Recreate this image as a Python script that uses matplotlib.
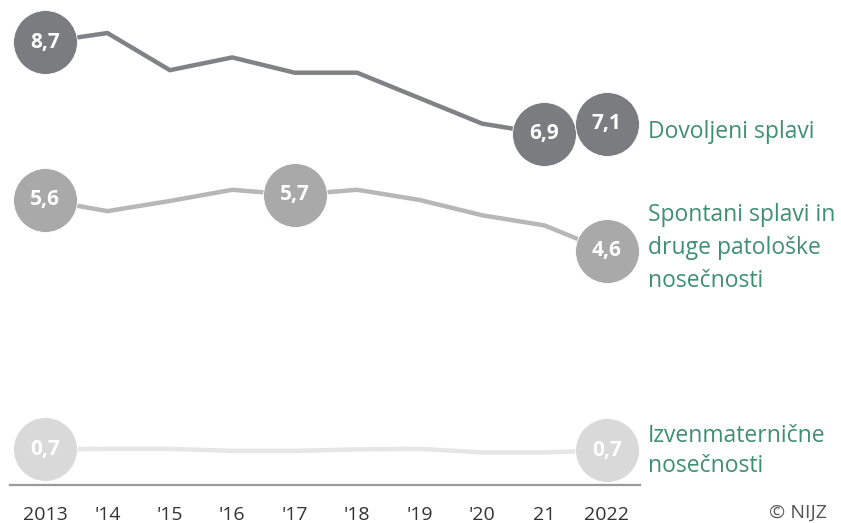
import numpy as np
import matplotlib
matplotlib.use("Agg")
import matplotlib.pyplot as plt

plt.rcParams['font.family'] = ['Open Sans', 'DejaVu Sans']

years = [2013, 2014, 2015, 2016, 2017, 2018, 2019, 2020, 2021, 2022]
tick_labels = ['2013', "'14", "'15", "'16", "'17", "'18", "'19", "'20", '21', '2022']

dovoljeni = [8.7, 8.88, 8.15, 8.4, 8.1, 8.1, 7.6, 7.1, 6.9, 7.1]
spontani = [5.6, 5.38, 5.58, 5.8, 5.7, 5.8, 5.6, 5.3, 5.1, 4.6]
izven = [0.70, 0.71, 0.71, 0.67, 0.67, 0.70, 0.71, 0.64, 0.64, 0.68]

# which points get a labelled circle
dov_marked = [2013, 2021, 2022]
spo_marked = [2013, 2017, 2022]
izv_marked = [2013, 2022]

series = [
    (dovoljeni, dov_marked, '#818286', '#7b7c80', 'Dovoljeni splavi'),
    (spontani, spo_marked, '#b7b7b7', '#a9a9a9', 'Spontani splavi in\ndruge patološke\nnosečnosti'),
    (izven, izv_marked, '#e6e6e6', '#d9d9d9', 'Izvenmaternične\nnosečnosti'),
]

fig = plt.figure(figsize=(8.41, 5.23), dpi=100)
ax = fig.add_axes([10/841, 38/523, 630/841, 9.5*50.9/523])
ax.set_xlim(2012.44, 2022.53)
ax.set_ylim(0, 9.5)

green = '#3f8f70'
for vals, marked, lc, cc, name in series:
    ax.plot(years, vals, color=lc, lw=3.2, solid_joinstyle='miter', zorder=2)
    for yr in marked:
        v = vals[years.index(yr)]
        ax.plot(yr, v, 'o', ms=46, color=cc, mec='white', mew=0.6, zorder=3, clip_on=False)
        ax.text(yr, v, f'{v:.1f}'.replace('.', ','), color='white', fontsize=15,
                fontweight='bold', ha='center', va='center', zorder=4)

# series names on the right
fig.text(648/841, 1 - 132/523, series[0][4], color=green, fontsize=16.5, va='center', ha='left')
fig.text(648/841, 1 - 248/523, series[1][4], color=green, fontsize=16.5, va='center', ha='left',
         linespacing=1.5)
fig.text(648/841, 1 - 451/523, series[2][4], color=green, fontsize=16.5, va='center', ha='left',
         linespacing=1.35)
fig.text(827/841, 1 - 513/523, '© NIJZ', color='#555555', fontsize=14, va='center', ha='right')

for s in ['top', 'right', 'left']:
    ax.spines[s].set_visible(False)
ax.spines['bottom'].set_color('#9a9a9a')
ax.spines['bottom'].set_linewidth(1.6)
ax.set_yticks([])
ax.set_xticks(years)
ax.set_xticklabels(tick_labels, fontsize=14, color='#333333')
ax.tick_params(axis='x', length=0, pad=15)

fig.savefig('out.png', dpi=100)
